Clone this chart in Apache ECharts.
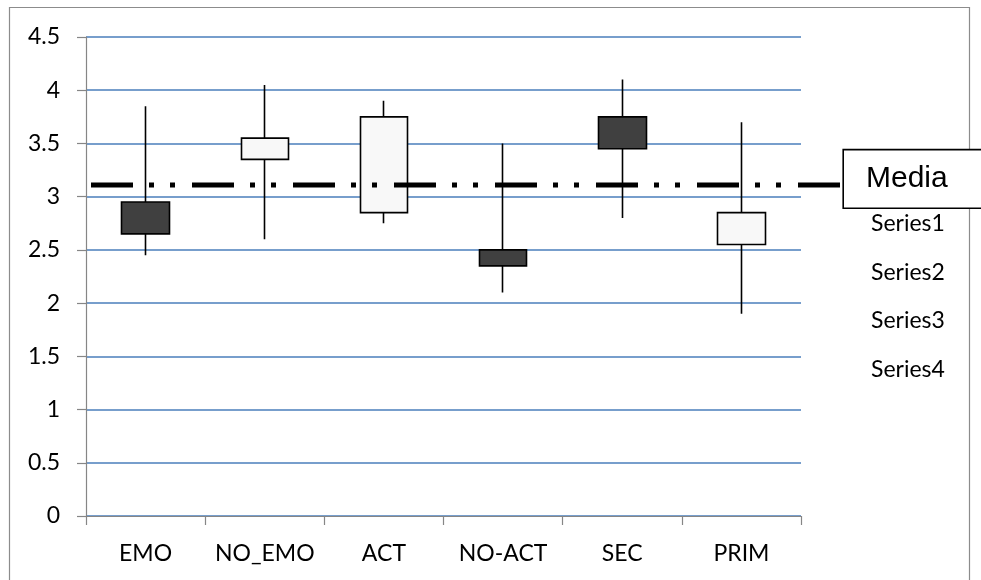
<!DOCTYPE html>
<html>
<head>
<meta charset="utf-8">
<style>
  html, body { margin: 0; padding: 0; background: #ffffff; }
  #chart { width: 981px; height: 580px; }
</style>
<script src="https://cdn.jsdelivr.net/npm/echarts@6/dist/echarts.min.js"></script>
</head>
<body>
<div id="chart"></div>
<script>
// Groups on the category axis
const categories = ['EMO', 'NO_EMO', 'ACT', 'NO-ACT', 'SEC', 'PRIM'];

// Open / high / low / close for each group
const openVals  = [2.95, 3.35, 2.85, 2.50, 3.75, 2.55];
const highVals  = [3.85, 4.05, 3.90, 3.50, 4.10, 3.70];
const lowVals   = [2.45, 2.60, 2.75, 2.10, 2.80, 1.90];
const closeVals = [2.65, 3.55, 3.75, 2.35, 3.45, 2.85];

// Overall mean drawn as a horizontal reference line
const mediaValue = 3.11;
const mediaLabel = 'Media';

// Legend entries and value-axis ticks
const seriesNames = ['Series1', 'Series2', 'Series3', 'Series4'];
const yTicks = { min: 0, max: 4.5, interval: 0.5 };

const chart = echarts.init(document.getElementById('chart'), null, { renderer: 'canvas' });

const candleData = categories.map((c, i) => [openVals[i], closeVals[i], lowVals[i], highVals[i]]);

const labelFont = 'Lato, "Open Sans", sans-serif';
const axisGray = '#868686';

const legendSeries = seriesNames.map(name => ({
  name: name,
  type: 'line',
  xAxisIndex: 0,
  yAxisIndex: 0,
  data: [],
  symbol: 'none'
}));

const option = {
  backgroundColor: '#ffffff',
  animation: false,
  graphic: [{
    type: 'rect',
    z: 0,
    silent: true,
    shape: { x: 9.5, y: 7.5, width: 960, height: 640 },
    style: { fill: 'none', stroke: '#8c8c8c', lineWidth: 1.2 }
  }],
  legend: {
    orient: 'vertical',
    left: 861,
    top: 207,
    icon: 'none',
    itemWidth: 0,
    itemHeight: 24,
    itemGap: 24.5,
    selectedMode: false,
    data: seriesNames,
    textStyle: { fontFamily: labelFont, fontSize: 23, color: '#000000', lineHeight: 24 }
  },
  grid: [
    { left: 86, right: 180, top: 37, bottom: 64, containLabel: false },
    { left: 91, right: 137, top: 37, bottom: 64, containLabel: false }
  ],
  xAxis: [{
    type: 'category',
    gridIndex: 0,
    data: categories,
    boundaryGap: true,
    axisLine: { show: true, lineStyle: { color: axisGray, width: 1.2 } },
    axisTick: { show: true, interval: 0, length: 9, inside: false, alignWithLabel: false, lineStyle: { color: axisGray, width: 1.2 } },
    axisLabel: { interval: 0, fontFamily: labelFont, fontSize: 23, color: '#000000', margin: 26 },
    splitLine: { show: false }
  }, {
    type: 'value',
    gridIndex: 1,
    min: 0,
    max: 1,
    show: false
  }],
  yAxis: [{
    type: 'value',
    gridIndex: 0,
    min: yTicks.min,
    max: yTicks.max,
    interval: yTicks.interval,
    axisLine: { show: true, lineStyle: { color: axisGray, width: 1.2 } },
    axisTick: { show: true, length: 9, inside: false, lineStyle: { color: axisGray, width: 1.2 } },
    axisLabel: { fontFamily: labelFont, fontSize: 23, color: '#000000', margin: 26 },
    splitLine: { show: true, lineStyle: { color: '#4a7ebb', width: 1.5 } }
  }, {
    type: 'value',
    gridIndex: 1,
    min: yTicks.min,
    max: yTicks.max,
    show: false
  }],
  series: [{
    name: 'OHLC',
    type: 'candlestick',
    xAxisIndex: 0,
    yAxisIndex: 0,
    barWidth: 48,
    data: candleData,
    itemStyle: {
      color: '#f8f8f8',
      color0: '#404040',
      borderColor: '#000000',
      borderColor0: '#000000',
      borderWidth: 1.6
    }
  }, {
    name: mediaLabel,
    type: 'line',
    xAxisIndex: 1,
    yAxisIndex: 1,
    data: [[0, mediaValue], [1, mediaValue]],
    symbol: 'none',
    z: 5,
    lineStyle: { color: '#000000', width: 5, type: [42, 16, 5, 16, 5, 17], cap: 'butt' },
    endLabel: {
      show: true,
      formatter: mediaLabel,
      distance: 0,
      offset: [0, -6],
      fontFamily: '"Liberation Sans", Arial, sans-serif',
      fontSize: 30,
      color: '#000000',
      backgroundColor: '#ffffff',
      borderColor: '#000000',
      borderWidth: 1.6,
      padding: [0, 40, 0, 22],
      width: 110,
      height: 57,
      lineHeight: 57,
      align: 'left',
      verticalAlign: 'middle'
    }
  }].concat(legendSeries)
};

chart.setOption(option);
</script>
</body>
</html>
